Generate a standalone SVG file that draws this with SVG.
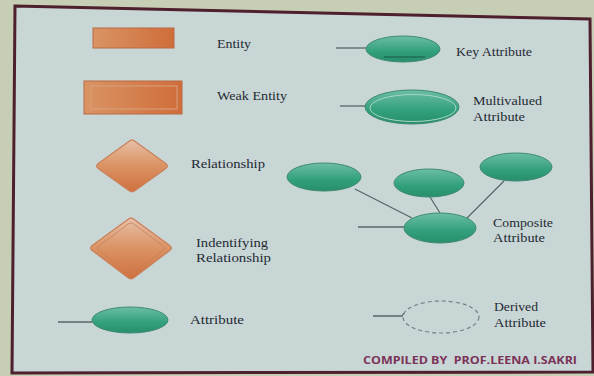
<svg xmlns="http://www.w3.org/2000/svg" width="594" height="376" viewBox="0 0 594 376">
  <defs>
    <linearGradient id="orange" x1="0" y1="0" x2="1" y2="0">
      <stop offset="0" stop-color="#da9464"/>
      <stop offset="1" stop-color="#cf6d3a"/>
    </linearGradient>
    <linearGradient id="orangeV" x1="0" y1="0" x2="0" y2="1">
      <stop offset="0" stop-color="#e6c0a8"/>
      <stop offset="0.45" stop-color="#dc9668"/>
      <stop offset="1" stop-color="#cf703e"/>
    </linearGradient>
    <linearGradient id="teal" x1="0" y1="0" x2="0" y2="1">
      <stop offset="0" stop-color="#6cbea4"/>
      <stop offset="0.6" stop-color="#32a07c"/>
      <stop offset="1" stop-color="#278e6b"/>
    </linearGradient>
    <style>
      .lbl { font-family: "Liberation Serif", "Times New Roman", serif; font-size: 13px; fill: #1f2a33; }
      .ent { fill: url(#orange); stroke: #b86a44; stroke-width: 1; }
      .dia { fill: url(#orangeV); stroke: #c98058; stroke-width: 1.2; stroke-linejoin: round; }
      .att { fill: url(#teal); stroke: #3f8a72; stroke-width: 1; }
      .ln { stroke: #56676a; stroke-width: 1.3; fill: none; }
    </style>
  </defs>

  <!-- backdrop and slide frame -->
  <rect x="0" y="0" width="594" height="376" fill="#c6cfb6"/>
  <polygon points="15,6 590,19 593,372 12,373" fill="#c9d6d6" stroke="#4e1f2c" stroke-width="3"/>

  <!-- connectors -->
  <g id="connectors">
    <line class="ln" x1="336" y1="48" x2="366" y2="48"/>
    <line class="ln" x1="340" y1="106" x2="366" y2="106"/>
    <line class="ln" x1="355" y1="189" x2="412" y2="218"/>
    <line class="ln" x1="430" y1="197" x2="440" y2="213"/>
    <line class="ln" x1="504" y1="181" x2="467" y2="218"/>
    <line class="ln" x1="358" y1="227" x2="404" y2="227"/>
    <line class="ln" x1="58" y1="322" x2="92" y2="322"/>
    <polyline class="ln" points="373,316 402,316 404,313"/>
  </g>

  <g id="entity">
    <rect class="ent" x="93" y="28" width="81" height="20"/>
    <text class="lbl" x="217" y="48" textLength="34" lengthAdjust="spacingAndGlyphs">Entity</text>
  </g>

  <g id="weak-entity">
    <rect class="ent" x="84" y="81" width="98" height="33"/>
    <rect x="91" y="86" width="86" height="23" fill="none" stroke="#d9a07c" stroke-width="1"/>
    <text class="lbl" x="217" y="100" textLength="70" lengthAdjust="spacingAndGlyphs">Weak Entity</text>
  </g>

  <g id="relationship">
    <path class="dia" d="M135.2,141.4 L165.8,163.6 Q169,166 165.8,168.4 L135.2,190.6 Q132,193 128.8,190.6 L98.2,168.4 Q95,166 98.2,163.6 L128.8,141.4 Q132,139 135.2,141.4 Z"/>
    <text class="lbl" x="191" y="168" textLength="74" lengthAdjust="spacingAndGlyphs">Relationship</text>
  </g>

  <g id="identifying-relationship">
    <path class="dia" stroke="#e4b496" stroke-width="2" d="M134.2,219.4 L169.8,245.6 Q173,248 169.8,250.4 L134.2,277.6 Q131,280 127.8,277.6 L92.2,250.4 Q89,248 92.2,245.6 L127.8,219.4 Q131,217 134.2,219.4 Z"/>
    <path fill="none" stroke="#c88058" stroke-width="0.8" d="M133.4,223.8 L163.6,246.2 Q166,248 163.6,249.8 L133.4,273.2 Q131,275 128.6,273.2 L98.4,249.8 Q96,248 98.4,246.2 L128.6,223.8 Q131,222 133.4,223.8 Z"/>
    <text class="lbl" x="196" y="247" textLength="72" lengthAdjust="spacingAndGlyphs">Indentifying</text>
    <text class="lbl" x="196" y="262" textLength="75" lengthAdjust="spacingAndGlyphs">Relationship</text>
  </g>

  <g id="attribute">
    <ellipse class="att" cx="130" cy="320" rx="38" ry="13"/>
    <text class="lbl" x="190" y="324" textLength="54" lengthAdjust="spacingAndGlyphs">Attribute</text>
  </g>

  <g id="key-attribute">
    <ellipse class="att" cx="403" cy="49" rx="37" ry="13"/>
    <line x1="384" y1="57" x2="425" y2="57" stroke="#1f6e55" stroke-width="1.5"/>
    <text class="lbl" x="456" y="56" textLength="76" lengthAdjust="spacingAndGlyphs">Key Attribute</text>
  </g>

  <g id="multivalued-attribute">
    <ellipse class="att" cx="412" cy="107" rx="47" ry="17"/>
    <ellipse cx="413" cy="108" rx="43" ry="13.5" fill="none" stroke="#a9d6c6" stroke-width="1"/>
    <text class="lbl" x="473" y="105" textLength="69" lengthAdjust="spacingAndGlyphs">Multivalued</text>
    <text class="lbl" x="473" y="121" textLength="52" lengthAdjust="spacingAndGlyphs">Attribute</text>
  </g>

  <g id="composite-attribute">
    <ellipse class="att" cx="324" cy="177" rx="37" ry="14"/>
    <ellipse class="att" cx="429" cy="183" rx="35" ry="14"/>
    <ellipse class="att" cx="516" cy="167" rx="36" ry="14"/>
    <ellipse class="att" cx="440" cy="228" rx="36" ry="15"/>
    <text class="lbl" x="493" y="227" textLength="60" lengthAdjust="spacingAndGlyphs">Composite</text>
    <text class="lbl" x="493" y="242" textLength="52" lengthAdjust="spacingAndGlyphs">Attribute</text>
  </g>

  <g id="derived-attribute">
    <ellipse cx="441" cy="317" rx="38" ry="16" fill="none" stroke="#6f8386" stroke-width="1.2" stroke-dasharray="4 3"/>
    <text class="lbl" x="494" y="311" textLength="44" lengthAdjust="spacingAndGlyphs">Derived</text>
    <text class="lbl" x="494" y="327" textLength="52" lengthAdjust="spacingAndGlyphs">Attribute</text>
  </g>

  <text x="363" y="364" font-family="'Open Sans', 'Liberation Sans', sans-serif" font-weight="bold" font-size="11" fill="#7b3358" textLength="214" lengthAdjust="spacingAndGlyphs" xml:space="preserve">COMPILED BY  PROF.LEENA I.SAKRI</text>
</svg>
